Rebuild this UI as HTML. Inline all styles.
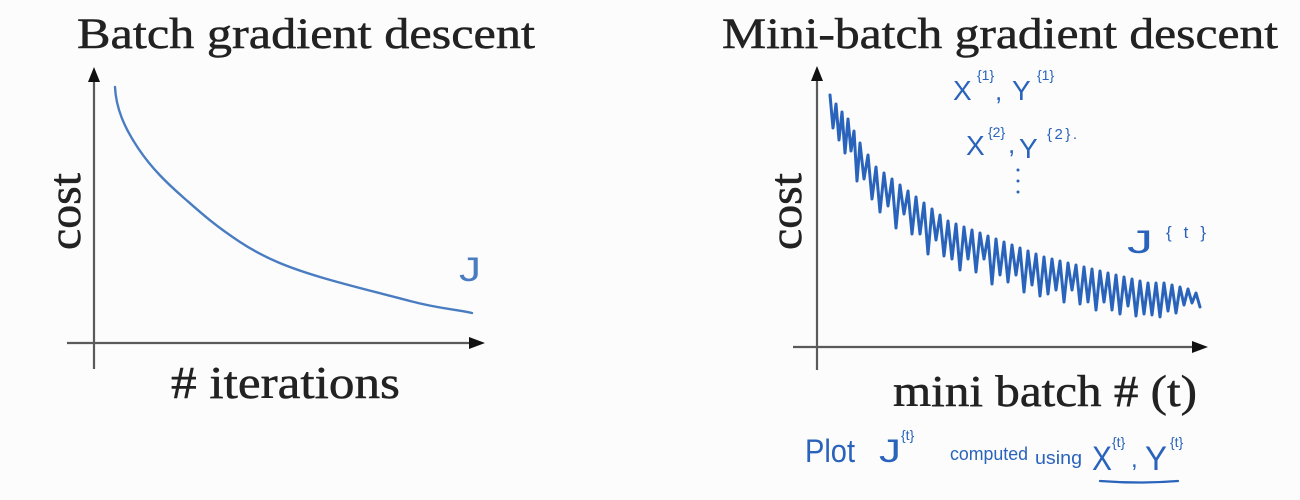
<!DOCTYPE html>
<html>
<head>
<meta charset="utf-8">
<style>
  html, body { margin: 0; padding: 0; background: #fbfcfb; }
  svg { display: block; }
</style>
</head>
<body>
<svg width="1300" height="500" viewBox="0 0 1300 500" xmlns="http://www.w3.org/2000/svg">
  <rect x="0" y="0" width="1300" height="500" fill="#fbfcfb"/>

  <!-- ===== Left chart: Batch gradient descent ===== -->
  <g font-family="Liberation Serif, serif" fill="#222" stroke="#222" stroke-width="0.5">
    <text x="77" y="48" font-size="43" textLength="458" lengthAdjust="spacingAndGlyphs">Batch gradient descent</text>
    <text transform="translate(80,250) rotate(-90)" font-size="46" textLength="77" lengthAdjust="spacingAndGlyphs">cost</text>
    <text x="171" y="398" font-size="46" textLength="229" lengthAdjust="spacingAndGlyphs"># iterations</text>
    <text x="722" y="48" font-size="43" textLength="556" lengthAdjust="spacingAndGlyphs">Mini-batch gradient descent</text>
    <text transform="translate(801,250) rotate(-90)" font-size="46" textLength="77" lengthAdjust="spacingAndGlyphs">cost</text>
    <text x="893" y="406" font-size="44" textLength="304" lengthAdjust="spacingAndGlyphs">mini batch # (t)</text>
  </g>

  <!-- axes -->
  <line x1="94" y1="80" x2="94" y2="369" stroke="#5a5a5a" stroke-width="2.2"/>
  <polygon points="94,67 88,82 100,82" fill="#111"/>
  <line x1="67" y1="343" x2="472" y2="343" stroke="#5a5a5a" stroke-width="2.2"/>
  <polygon points="485,343 469,337 469,349" fill="#111"/>

  <!-- smooth cost curve -->
  <path d="M115,87 C116,108 124,127 138,148 S168,184 184,198 S214,225 240,242 S290,268 320,277 S380,293 410,301 S455,309 472,313"
        fill="none" stroke="#4a7cc2" stroke-width="2.4" stroke-linecap="round" stroke-linejoin="round"/>
  <text x="459" y="281" font-family="Liberation Sans, sans-serif" font-size="34" fill="#4a7cc2" textLength="22" lengthAdjust="spacingAndGlyphs">J</text>

  <!-- ===== Right chart ===== -->
  <line x1="817" y1="79" x2="817" y2="370" stroke="#5a5a5a" stroke-width="2.2"/>
  <polygon points="817,66 811,81 823,81" fill="#111"/>
  <line x1="793" y1="347" x2="1195" y2="347" stroke="#5a5a5a" stroke-width="2.2"/>
  <polygon points="1208,347 1192,341 1192,353" fill="#111"/>

  <!-- noisy mini-batch cost curve -->
  <polyline fill="none" stroke="#2a63bb" stroke-width="3" stroke-linejoin="round" stroke-linecap="round"
    points="830,95 833,128 836,104 839,140 842,112 845,153 848,119 851,151 854,131 857,181 860,143 864,179 868,155 872,199 876,167
            880,212 884,173 888,206 892,179 896,228 900,185 904,214 908,191 912,234 916,197 920,234 924,203 928,254 932,209 936,240 940,215 944,256 948,221
            952,259 956,224 960,270 964,227 968,259 972,230 976,272 980,233 984,259 988,236 992,284 996,239 1000,275 1004,242 1008,282 1012,245 1016,275 1020,248 1024,292 1028,251 1032,285 1036,254 1040,296 1044,257
            1048,294 1052,259 1056,290 1060,261 1064,302 1068,263 1072,290 1076,265 1080,304 1084,267 1088,302 1092,269 1096,310 1100,271 1104,302 1108,273 1112,310 1116,275 1120,314 1124,277 1128,306 1132,279 1136,316 1140,281 1144,314 1148,283
            1152,315 1156,283 1160,317 1164,283 1168,311 1172,285 1176,313 1180,287 1184,305 1188,289 1192,303 1196,293 1200,307"/>

  <!-- handwritten annotations -->
  <g font-family="Liberation Sans, sans-serif" fill="#2a63bb">
    <text x="953" y="100" font-size="28">X</text>
    <text x="977" y="80" font-size="14">{1}</text>
    <text x="995" y="100" font-size="26">,</text>
    <text x="1012" y="100" font-size="28">Y</text>
    <text x="1037" y="80" font-size="14">{1}</text>

    <text x="966" y="155" font-size="28">X</text>
    <text x="988" y="137" font-size="14">{2}</text>
    <text x="1008" y="153" font-size="26">,</text>
    <text x="1019" y="158" font-size="28">Y</text>
    <text x="1047" y="139" font-size="15" textLength="30" lengthAdjust="spacing">{2}.</text>

    <text x="1127" y="253" font-size="32" textLength="26" lengthAdjust="spacingAndGlyphs">J</text>
    <text x="1166" y="238" font-size="17" textLength="40" lengthAdjust="spacing">{t}</text>

    <text x="805" y="462" font-size="32" textLength="50" lengthAdjust="spacingAndGlyphs">Plot</text>
    <text x="879" y="462" font-size="32" textLength="22" lengthAdjust="spacingAndGlyphs">J</text>
    <text x="901" y="440" font-size="14">{t}</text>
    <text x="950" y="460" font-size="18" textLength="78" lengthAdjust="spacingAndGlyphs">computed</text>
    <text x="1035" y="464" font-size="18" textLength="47" lengthAdjust="spacingAndGlyphs">using</text>
    <text x="1092" y="470" font-size="34" textLength="20" lengthAdjust="spacingAndGlyphs">X</text>
    <text x="1112" y="447" font-size="14">{t}</text>
    <text x="1131" y="467" font-size="24">,</text>
    <text x="1145" y="470" font-size="34" textLength="22" lengthAdjust="spacingAndGlyphs">Y</text>
    <text x="1170" y="447" font-size="14">{t}</text>
  </g>
  <circle cx="1018" cy="170" r="1.5" fill="#2a63bb"/>
  <circle cx="1018" cy="181" r="1.5" fill="#2a63bb"/>
  <circle cx="1018" cy="192" r="1.5" fill="#2a63bb"/>
  <path d="M1100,481 Q1140,484 1178,481" fill="none" stroke="#2a63bb" stroke-width="2.2" stroke-linecap="round"/>
</svg>
</body>
</html>
